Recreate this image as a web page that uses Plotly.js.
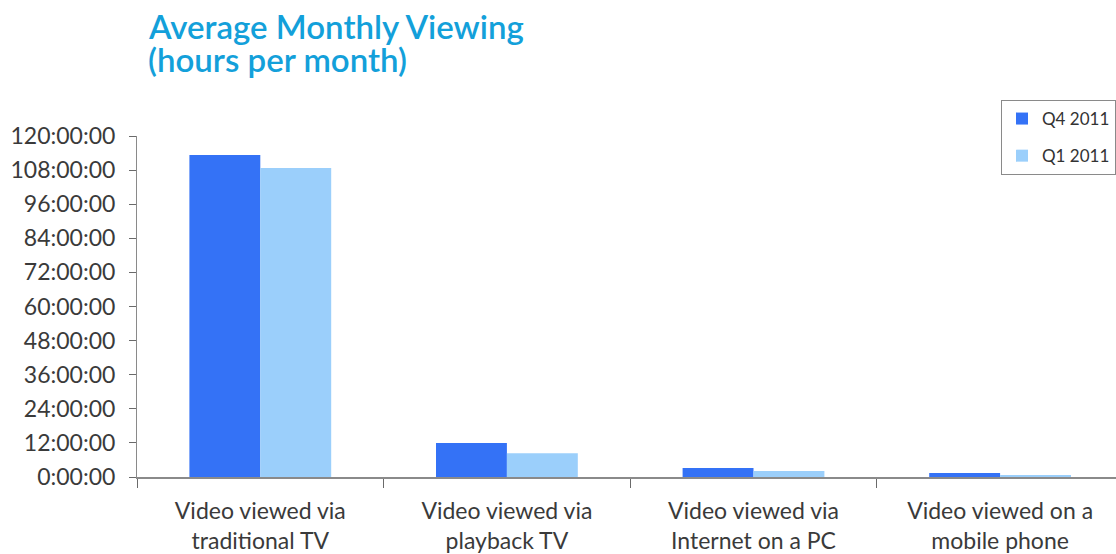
<!DOCTYPE html>
<html>
<head>
<meta charset="utf-8">
<script src="https://cdn.plot.ly/plotly-3.0.1.min.js"></script>
<style>html,body{margin:0;padding:0;background:#fff;overflow:hidden}#chart{width:1116px;height:554px}</style>
</head>
<body>
<div id="chart"></div>
<script>
const categories = [
  "Video viewed via<br>traditional TV",
  "Video viewed via<br>playback TV",
  "Video viewed via<br>Internet on a PC",
  "Video viewed on a<br>mobile phone"
];
const seriesNames = ["Q4 2011", "Q1 2011"];
const q4Hours = [113.3, 12.0, 3.2, 1.4];
const q1Hours = [108.7, 8.4, 2.1, 0.7];
const tickHours = [0, 12, 24, 36, 48, 60, 72, 84, 96, 108, 120];
const tickLabels = ["0:00:00", "12:00:00", "24:00:00", "36:00:00", "48:00:00", "60:00:00",
  "72:00:00", "84:00:00", "96:00:00", "108:00:00", "120:00:00"];
const titleLines = ["Average Monthly Viewing", "(hours per month)"];

const traces = [
  {type: "bar", name: seriesNames[0], x: categories, y: q4Hours, legendgroup: "a",
   marker: {color: "#3472F6"}, hoverinfo: "skip"},
  {type: "bar", name: seriesNames[1], x: categories, y: q1Hours, legendgroup: "b",
   marker: {color: "#9BCFFB"}, hoverinfo: "skip"}
];

const plotH = 341;
const plotW = 979;
const titleFont = {family: "Lato, 'Open Sans', sans-serif", size: 33, color: "#13A0DA", weight: 600};
const layout = {
  width: 1116, height: 554,
  margin: {l: 137, r: 0, t: 136, b: 77},
  paper_bgcolor: "#fff", plot_bgcolor: "#fff",
  font: {family: "Lato, 'Open Sans', sans-serif", color: "#3a3a3a", size: 19},
  annotations: [
    {text: titleLines[0], xref: "paper", yref: "paper",
     x: (146-137)/plotW, xanchor: "left", y: 1 + (136-4)/plotH, yanchor: "top",
     showarrow: false, font: titleFont},
    {text: titleLines[1], xref: "paper", yref: "paper",
     x: (146-137)/plotW, xanchor: "left", y: 1 + (136-37)/plotH, yanchor: "top",
     showarrow: false, font: titleFont}
  ],
  barmode: "group",
  bargap: 0.425,
  bargroupgap: 0,
  showlegend: true,
  legend: {
    x: 1, xanchor: "right", xref: "paper",
    y: 1 + 36/plotH, yanchor: "top",
    bgcolor: "#fff", bordercolor: "#8a8a8a", borderwidth: 1,
    font: {family: "Lato, 'Open Sans', sans-serif", size: 17, color: "#333"},
    itemwidth: 30, tracegroupgap: 12, traceorder: "grouped"
  },
  xaxis: {
    type: "category",
    range: [-0.5, 3.47],
    showline: true, linecolor: "#8a8a8a", linewidth: 2,
    ticks: "outside", tickson: "boundaries", ticklen: 9, tickcolor: "#6a6a6a", tickwidth: 1,
    ticklabelstandoff: 12,
    tickfont: {size: 23, color: "#3a3a3a"},
    showgrid: false, zeroline: false, fixedrange: true
  },
  yaxis: {
    range: [0, 120],
    tickmode: "array", tickvals: tickHours, ticktext: tickLabels,
    showline: true, linecolor: "#8a8a8a", linewidth: 1,
    ticks: "outside", ticklen: 7, tickcolor: "#6a6a6a",
    ticklabelstandoff: 9,
    tickfont: {size: 23, color: "#3a3a3a"},
    showgrid: false, zeroline: false, fixedrange: true
  }
};

Plotly.newPlot("chart", traces, layout, {displayModeBar: false, staticPlot: true});
</script>
</body>
</html>
